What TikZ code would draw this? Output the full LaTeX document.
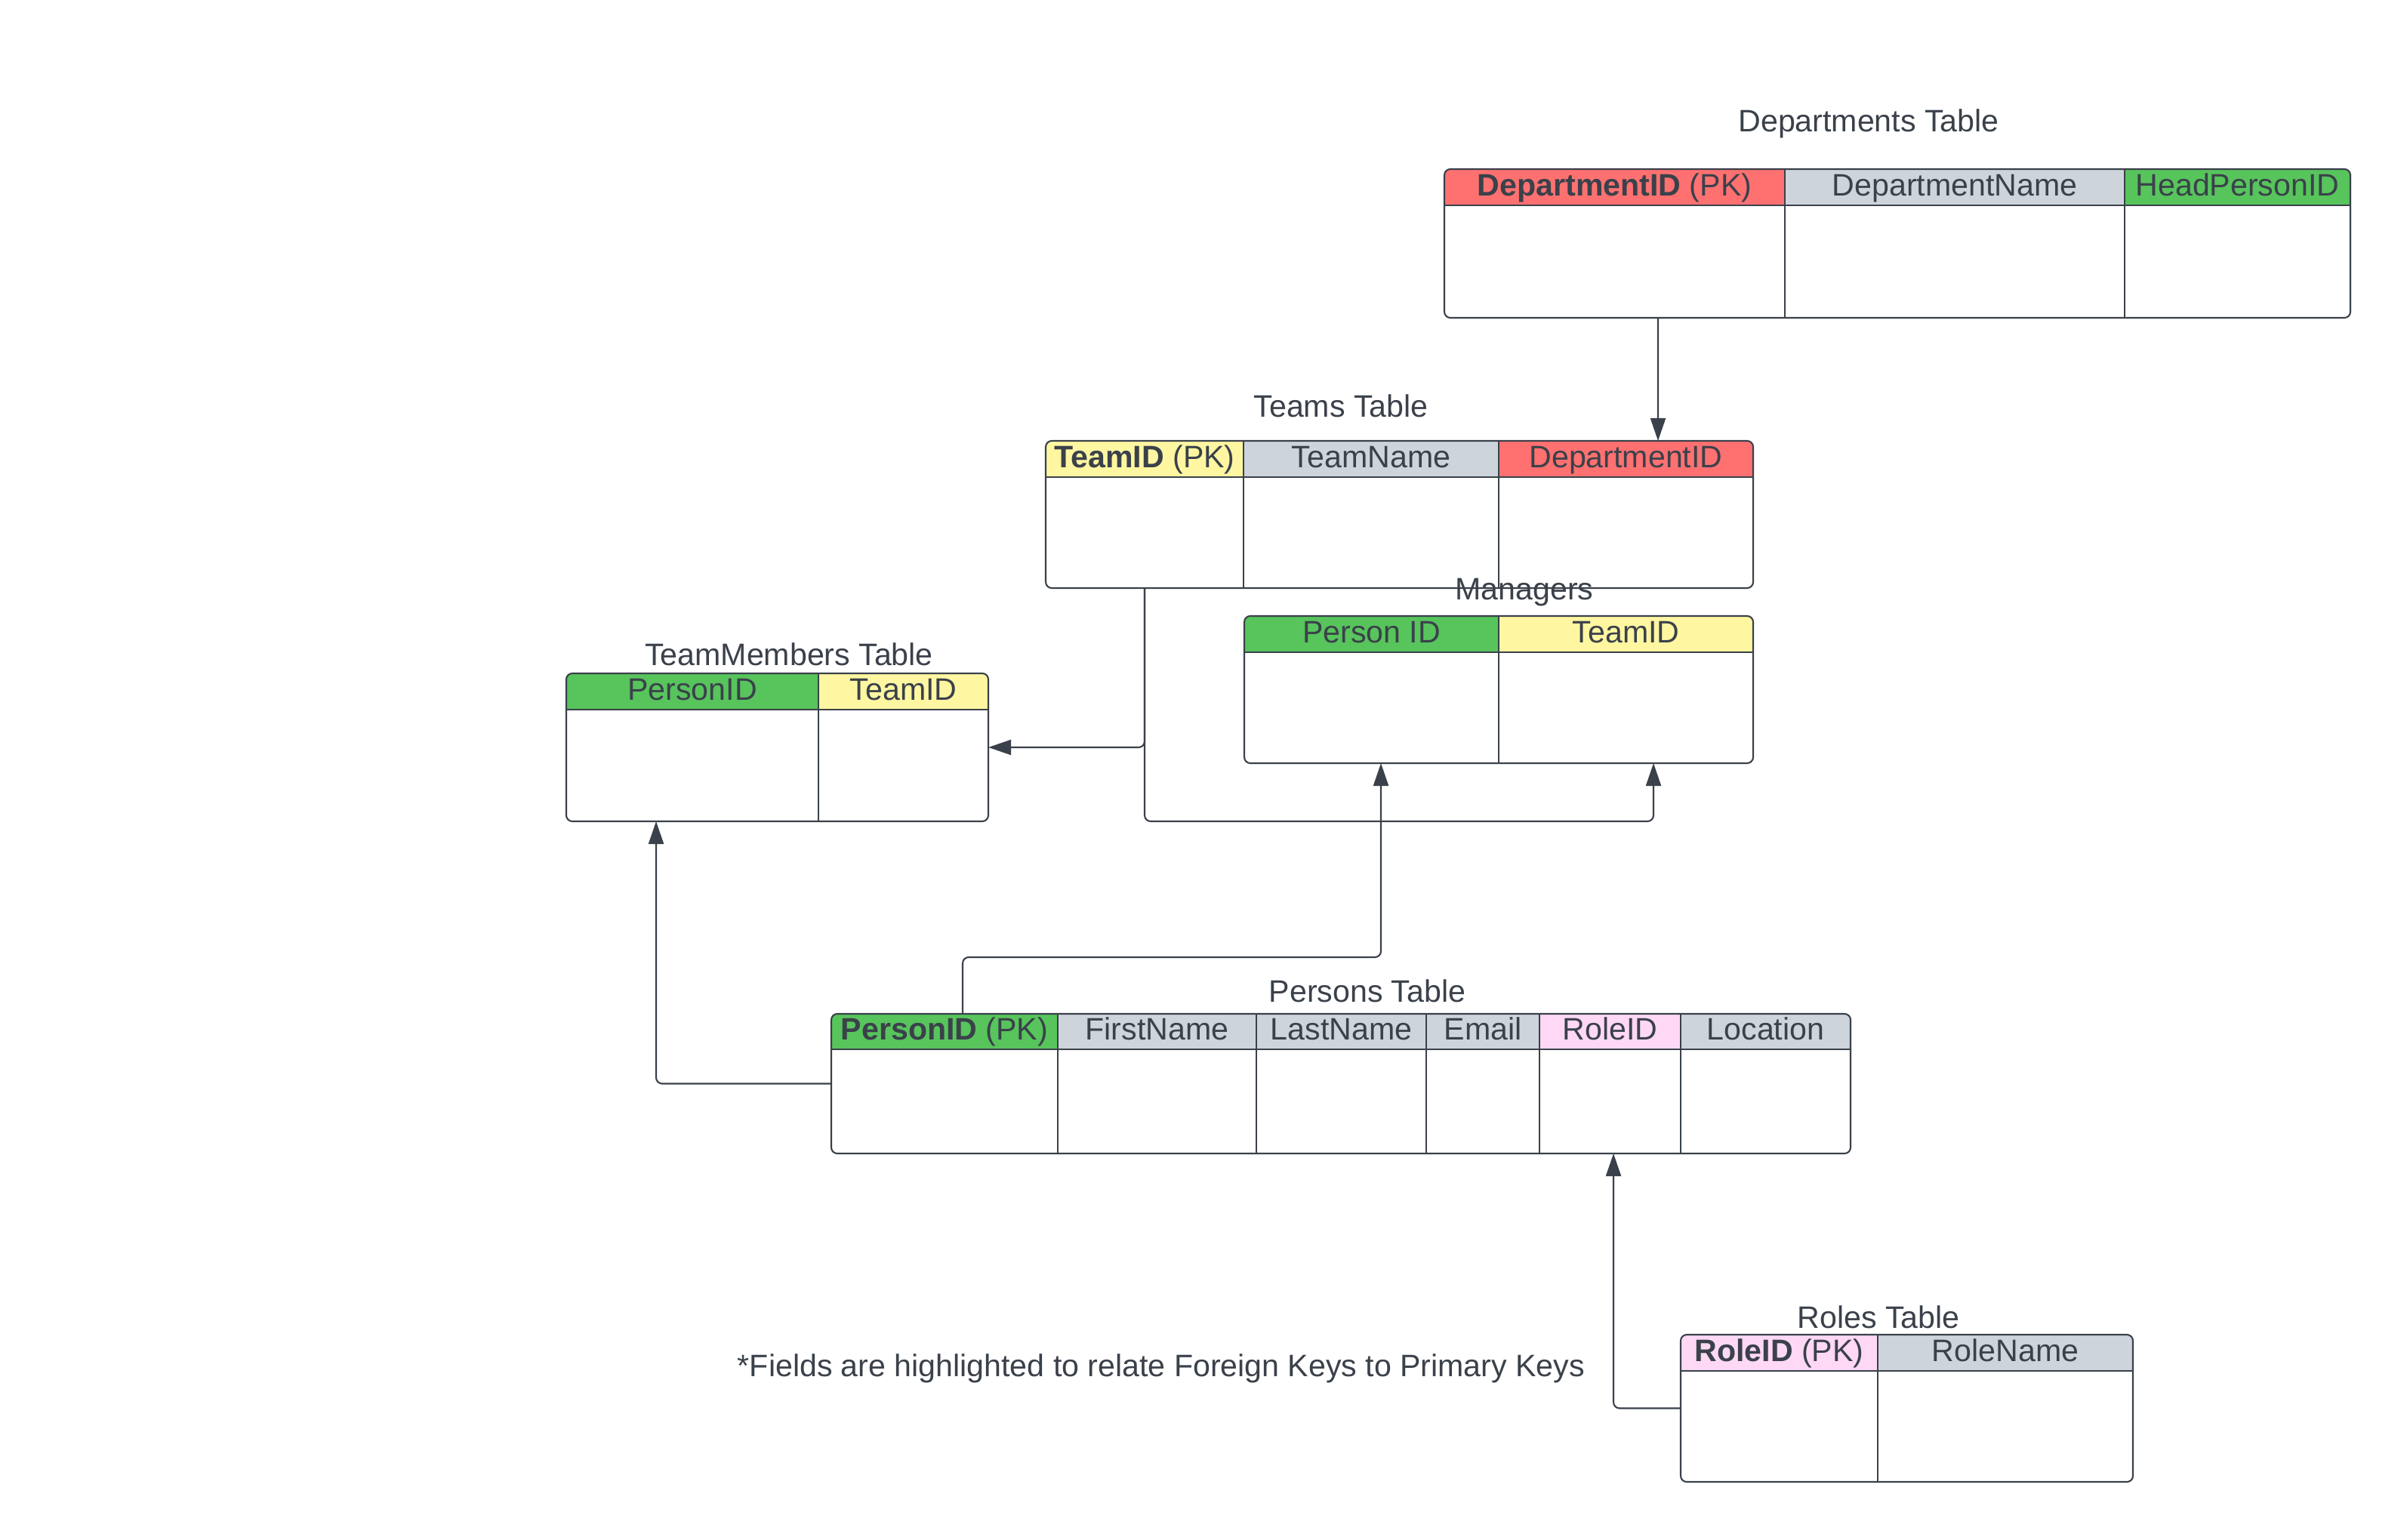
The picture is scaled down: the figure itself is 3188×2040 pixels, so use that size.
\documentclass[tikz,border=0pt]{standalone}
\usepackage{fontspec}
\setmainfont{Liberation Sans}
\usetikzlibrary{arrows.meta,fit}
\definecolor{garis}{HTML}{3A414A}
\definecolor{merah}{HTML}{FF7171}
\definecolor{abu}{HTML}{CED4DB}
\definecolor{hijau}{HTML}{57C45C}
\definecolor{kuning}{HTML}{FFF6A1}
\definecolor{jambu}{HTML}{FFD8F5}
\begin{document}
\begin{tikzpicture}[x=0.1mm,y=-0.1mm]
    % Sumbu y dibalik (y=-0.1mm): satu satuan = satu piksel gambar acuan.
    \tikzset{
      every node/.style={text=garis,font=\fontsize{11.7}{14}\selectfont},
      judul/.style={inner sep=0pt},
      kepala/.style={draw=garis,line width=0.35pt,anchor=north west,
        inner sep=0pt,outer sep=0pt,minimum height=4.8mm,
        text height=8.7pt,text depth=2.4pt},
      isi/.style={draw=garis,line width=0.35pt,anchor=north west,
        inner sep=0pt,outer sep=0pt},
      bingkai/.style={draw=garis,line width=0.6pt,rounded corners=0.8mm,
        inner sep=0pt,outer sep=0pt},
      tebal/.style={draw=garis,line width=0.6pt},
      panah/.style={draw=garis,line width=0.6pt,rounded corners=0.8mm,
        -{Triangle[length=3mm,width=2mm]}}}
    \useasboundingbox (0,0) rectangle (3188,2040);
    % Tabel Departments
    \node[judul] (dep-j) at (2475,164) {Departments Table};
    \begin{scope}
      \clip[rounded corners=0.8mm] (1913,224) rectangle (3113,421);
      \foreach \nomor/\xa/\xb/\warna/\teks in {1/1913/2364/merah/{\textbf{DepartmentID} (PK)},
          2/2364/2814/abu/DepartmentName,3/2814/3113/hijau/HeadPersonID} {
        \pgfmathsetmacro\lebar{(\xb-\xa)/10}
        \node[kepala,fill=\warna,minimum width=\lebar mm] (dep-k\nomor) at (\xa,224) {\teks};
        \node[isi,minimum width=\lebar mm,minimum height=14.9mm] (dep-i\nomor) at (\xa,272) {};
      }
    \end{scope}
    \node[bingkai,fit=(dep-k1)(dep-i3)] (dep) {};
    \draw[tebal] (dep-k1.south west) -- (dep-k3.south east);
    % Tabel Teams
    \node[judul] (tem-j) at (1776,538) {Teams Table};
    \begin{scope}
      \clip[rounded corners=0.8mm] (1385,584) rectangle (2322,779);
      \foreach \nomor/\xa/\xb/\warna/\teks in {1/1385/1647/kuning/{\textbf{TeamID} (PK)},
          2/1647/1985/abu/TeamName,3/1985/2322/merah/DepartmentID} {
        \pgfmathsetmacro\lebar{(\xb-\xa)/10}
        \node[kepala,fill=\warna,minimum width=\lebar mm] (tem-k\nomor) at (\xa,584) {\teks};
        \node[isi,minimum width=\lebar mm,minimum height=14.7mm] (tem-i\nomor) at (\xa,632) {};
      }
    \end{scope}
    \node[bingkai,fit=(tem-k1)(tem-i3)] (tem) {};
    \draw[tebal] (tem-k1.south west) -- (tem-k3.south east);
    % Tabel Managers
    \node[judul] (man-j) at (2019,785) {Managers};
    \begin{scope}
      \clip[rounded corners=0.8mm] (1648,816) rectangle (2322,1011);
      \foreach \nomor/\xa/\xb/\warna/\teks in {1/1648/1985/hijau/Person ID,
          2/1985/2322/kuning/TeamID} {
        \pgfmathsetmacro\lebar{(\xb-\xa)/10}
        \node[kepala,fill=\warna,minimum width=\lebar mm] (man-k\nomor) at (\xa,816) {\teks};
        \node[isi,minimum width=\lebar mm,minimum height=14.7mm] (man-i\nomor) at (\xa,864) {};
      }
    \end{scope}
    \node[bingkai,fit=(man-k1)(man-i2)] (man) {};
    \draw[tebal] (man-k1.south west) -- (man-k2.south east);
    % Tabel TeamMembers
    \node[judul] (tm-j) at (1045,867) {TeamMembers Table};
    \begin{scope}
      \clip[rounded corners=0.8mm] (750,892) rectangle (1309,1088);
      \foreach \nomor/\xa/\xb/\warna/\teks in {1/750/1084/hijau/PersonID,
          2/1084/1309/kuning/TeamID} {
        \pgfmathsetmacro\lebar{(\xb-\xa)/10}
        \node[kepala,fill=\warna,minimum width=\lebar mm] (tm-k\nomor) at (\xa,892) {\teks};
        \node[isi,minimum width=\lebar mm,minimum height=14.8mm] (tm-i\nomor) at (\xa,940) {};
      }
    \end{scope}
    \node[bingkai,fit=(tm-k1)(tm-i2)] (tm) {};
    \draw[tebal] (tm-k1.south west) -- (tm-k2.south east);
    % Tabel Persons
    \node[judul] (per-j) at (1811,1313) {Persons Table};
    \begin{scope}
      \clip[rounded corners=0.8mm] (1101,1343) rectangle (2451,1528);
      \foreach \nomor/\xa/\xb/\warna/\teks in {1/1101/1401/hijau/{\textbf{PersonID} (PK)},
          2/1401/1664/abu/FirstName,3/1664/1889/abu/LastName,4/1889/2039/abu/Email,
          5/2039/2226/jambu/RoleID,6/2226/2451/abu/Location} {
        \pgfmathsetmacro\lebar{(\xb-\xa)/10}
        \node[kepala,fill=\warna,minimum width=\lebar mm,minimum height=4.7mm] (per-k\nomor) at (\xa,1343) {\teks};
        \node[isi,minimum width=\lebar mm,minimum height=13.8mm] (per-i\nomor) at (\xa,1390) {};
      }
    \end{scope}
    \node[bingkai,fit=(per-k1)(per-i6)] (per) {};
    \draw[tebal] (per-k1.south west) -- (per-k6.south east);
    % Tabel Roles
    \node[judul] (rol-j) at (2488,1745) {Roles Table};
    \begin{scope}
      \clip[rounded corners=0.8mm] (2226,1768) rectangle (2825,1963);
      \foreach \nomor/\xa/\xb/\warna/\teks in {1/2226/2487/jambu/{\textbf{RoleID} (PK)},
          2/2487/2825/abu/RoleName} {
        \pgfmathsetmacro\lebar{(\xb-\xa)/10}
        \node[kepala,fill=\warna,minimum width=\lebar mm] (rol-k\nomor) at (\xa,1768) {\teks};
        \node[isi,minimum width=\lebar mm,minimum height=14.7mm] (rol-i\nomor) at (\xa,1816) {};
      }
    \end{scope}
    \node[bingkai,fit=(rol-k1)(rol-i2)] (rol) {};
    \draw[tebal] (rol-k1.south west) -- (rol-k2.south east);
    % Catatan
    \node[judul] (catatan) at (1538,1813) {*Fields are highlighted to relate Foreign Keys to Primary Keys};
    % Relasi antar tabel
    \coordinate (m1) at ([xshift=1.25mm]man-i1.south);
    \coordinate (m2) at ([xshift=3.65mm]man-i2.south);
    \draw[panah] ([xshift=5.75mm]dep-i1.south) -- ([xshift=4.25mm]tem-k3.north);
    \draw[panah] (tem-i1.south) |- (tm.east);
    \draw[panah] (tem-i1.south) |- (m2 |- tm.south) -- (m2);
    \draw[panah] ([xshift=2.4mm]per-k1.north) -- ++(0,-75) -| (m1);
    \draw[panah] (per.west) -| ([xshift=-4.8mm]tm-i1.south);
    \draw[panah] (rol.west) -| ([xshift=0.45mm]per-i5.south);
  \end{tikzpicture}
\end{document}
